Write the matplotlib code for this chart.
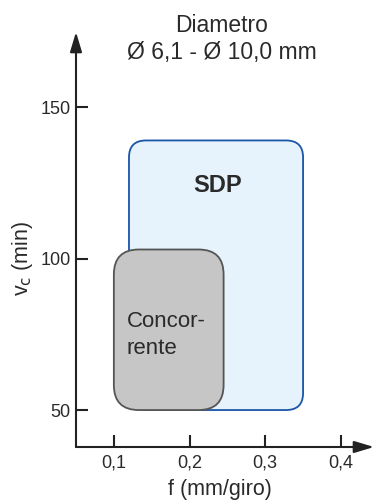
import matplotlib
matplotlib.use("Agg")
import matplotlib.pyplot as plt
from matplotlib.patches import FancyBboxPatch

plt.rcParams["font.family"] = ["Liberation Sans", "DejaVu Sans"]

# zone operative (avanzamento f, velocita di taglio vc)
regioni = ["SDP", "Concorrente"]
f_min = [0.12, 0.10]
f_max = [0.35, 0.245]
vc_min = [50, 50]
vc_max = [139, 103]

xticks = [0.1, 0.2, 0.3, 0.4]
xtick_labels = ["0,1", "0,2", "0,3", "0,4"]
yticks = [50, 100, 150]

colors = {
    "axis": "#222222",
    "text": "#2a2a2a",
    "sdp_face": "#E6F3FC",
    "sdp_edge": "#1A55A8",
    "conc_face": "#C6C6C6",
    "conc_edge": "#555555",
}

W, H = 374, 501
fig = plt.figure(figsize=(W / 100, H / 100), dpi=100)
fig.patch.set_facecolor("white")

# assi in pixel: origine (76, 447), punta x a 374, punta y a 32
ax = fig.add_axes([76 / W, 1 - 447 / H, 298 / W, 415 / H])
ax.set_xlim(0.05, 0.4437)
ax.set_ylim(37.8, 174.8)
ax.patch.set_alpha(0)

for s in ["top", "right", "left", "bottom"]:
    ax.spines[s].set_visible(False)

arr = dict(
    arrowstyle="-|>,head_length=0.6,head_width=0.18",
    mutation_scale=20,
    color=colors["axis"],
    lw=1.5,
    shrinkA=0,
    shrinkB=0,
)
ax.annotate("", xy=(0, 1), xytext=(0, 0), xycoords="axes fraction", arrowprops=arr)
ax.annotate("", xy=(1, 0), xytext=(0, 0), xycoords="axes fraction", arrowprops=arr)

# scala px per unita per arrotondare gli angoli in modo uniforme
px_x = 298 / (0.4437 - 0.05)
px_y = 415 / (174.8 - 37.8)
aspect = px_x / px_y

styles = [
    (colors["sdp_face"], colors["sdp_edge"], 17),
    (colors["conc_face"], colors["conc_edge"], 25),
]
for i, name in enumerate(regioni):
    fc, ec, r = styles[i]
    ax.add_patch(
        FancyBboxPatch(
            (f_min[i], vc_min[i]),
            f_max[i] - f_min[i],
            vc_max[i] - vc_min[i],
            boxstyle=f"round,pad=0,rounding_size={r / px_x}",
            mutation_aspect=aspect,
            facecolor=fc,
            edgecolor=ec,
            linewidth=1.3,
            zorder=2 + i,
        )
    )

ax.text(0.2376, 124.0, "SDP", ha="center", va="center", fontsize=17,
        fontweight="bold", color=colors["text"], zorder=5)
ax.text(0.117, 74.8, "Concor-\nrente", ha="left", va="center", fontsize=16,
        color=colors["text"], linespacing=1.38, zorder=5)

ax.set_xticks(xticks)
ax.set_xticklabels(xtick_labels)
ax.set_yticks(yticks)
ax.tick_params(direction="in", length=8.5, width=1.5, color=colors["axis"],
               labelsize=13, labelcolor=colors["text"], pad=5.5)
ax.tick_params(axis="y", pad=4)

ax.set_xlabel("f (mm/giro)", fontsize=15.5, color=colors["text"], va="center")
ax.xaxis.set_label_coords(0.483, -0.1036)
ax.set_ylabel("v$_\\mathrm{c}$ (min)", fontsize=15.5, color=colors["text"], va="center")
ax.yaxis.set_label_coords(-0.181, 0.455)

fig.text(221.7 / W, 1 - 26 / H, "Diametro", ha="center", va="center",
         fontsize=16.5, color=colors["text"])
fig.text(221.7 / W, 1 - 52 / H, "Ø 6,1 - Ø 10,0 mm", ha="center", va="center",
         fontsize=16.5, color=colors["text"])

fig.savefig("out.png", dpi=100)
